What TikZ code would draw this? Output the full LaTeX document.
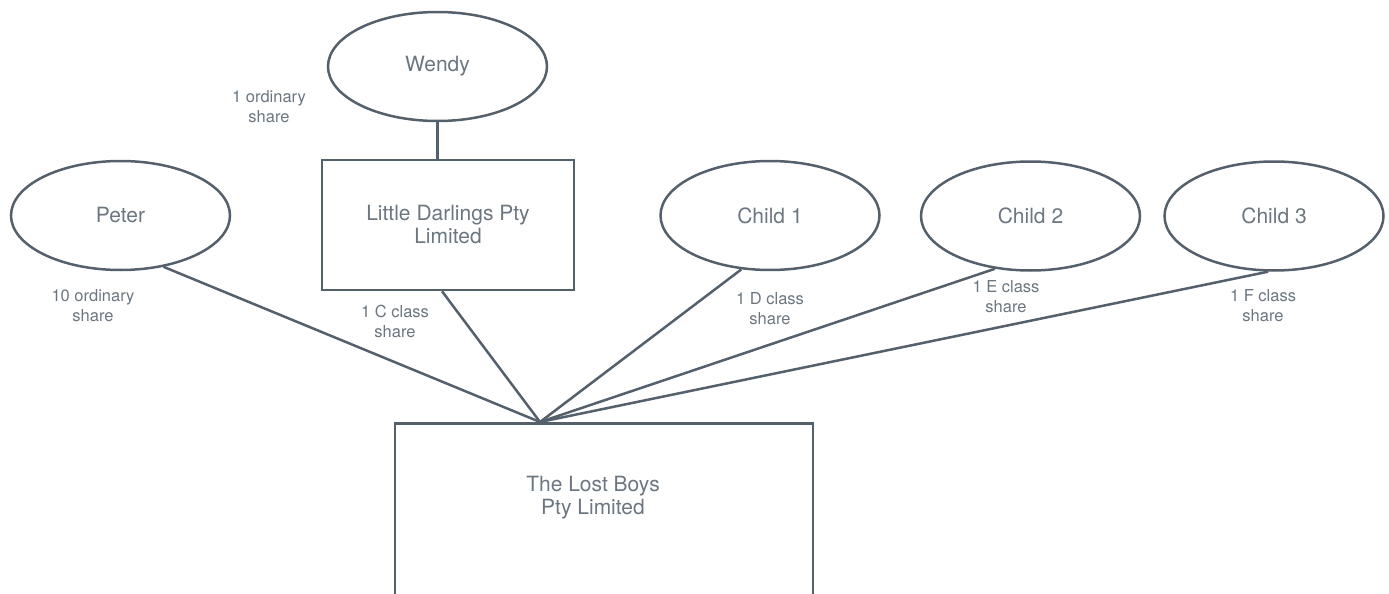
\documentclass[tikz,border=0pt]{standalone}
\usepackage{fontspec}
\setmainfont{TeX Gyre Heros}
\usetikzlibrary{shapes.geometric,calc}
\definecolor{lineclr}{RGB}{84,96,107}
\definecolor{textclr}{RGB}{108,118,128}
\tikzset{
  person/.style={draw=lineclr, line width=2.5pt, ellipse, minimum width=219pt, minimum height=109pt, inner sep=0pt, text=textclr, font=\fontsize{21}{23}\selectfont},
  company/.style={draw=lineclr, line width=2.5pt, rectangle, inner sep=0pt, text=textclr, align=center, font=\fontsize{21}{23}\selectfont},
  maintext/.style={text=textclr, align=center, font=\fontsize{21}{23}\selectfont},
  sharelbl/.style={text=textclr, align=center, font=\fontsize{16.5}{20}\selectfont},
  link/.style={draw=lineclr, line width=2.5pt}
}
\begin{document}
\begin{tikzpicture}[x=1pt,y=-1pt]
\useasboundingbox (0,0) rectangle (1389,594);
\clip (0,0) rectangle (1389,594);
\node[person] (wendy) at (437.5,66.5) {Wendy};
\node[person] (peter) at (120.5,215.5) {Peter};
\node[person] (child1) at (770,215.5) {Child 1};
\node[person] (child2) at (1030.5,216) {Child 2};
\node[person] (child3) at (1274,216) {Child 3};
\node[company, minimum width=252pt, minimum height=130pt] (ld) at (448,225) {Little Darlings Pty\\Limited};
\node[company, minimum width=418pt, minimum height=220pt, anchor=north] (lost) at (604,422) {};
\node[maintext] (losttext) at (593,498) {The Lost Boys\\Pty Limited};
\coordinate (hub) at (540,422);
\draw[link] (wendy.south) -- (wendy.south |- ld.north);
\draw[link] (peter.-50) -- (hub);
\draw[link] ([xshift=-6pt]ld.south) -- (hub);
\draw[link] (child1.-118) -- (hub);
\draw[link] (child2.-124) -- (hub);
\draw[link] (child3.-96) -- (hub);
\node[sharelbl] (lw) at (269,107) {1 ordinary\\share};
\node[sharelbl] (lp) at (93,306) {10 ordinary\\share};
\node[sharelbl] (lc) at (395,321) {1 C class\\share};
\node[sharelbl] (ld1) at (770,309) {1 D class\\share};
\node[sharelbl] (le) at (1006,297) {1 E class\\share};
\node[sharelbl] (lf) at (1263,306) {1 F class\\share};
\end{tikzpicture}
\end{document}
